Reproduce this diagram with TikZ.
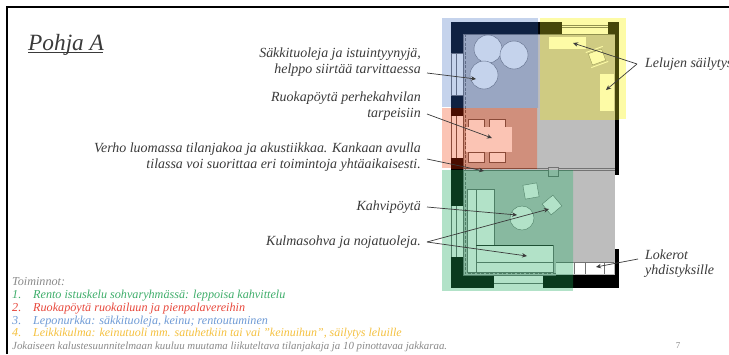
\documentclass[tikz,border=0pt]{standalone}
\usepackage{fontspec}
\setmainfont{Liberation Serif}
\usetikzlibrary{arrows.meta}
\definecolor{ink}{HTML}{3A3A3A}
\definecolor{gtext}{HTML}{8A8A8A}
\definecolor{tgreen}{HTML}{3FAE6B}
\definecolor{tred}{HTML}{E8483C}
\definecolor{tblue}{HTML}{6F9BD6}
\definecolor{tyellow}{HTML}{F5C13F}
\tikzset{
  lbl/.style={font=\fontsize{14}{16}\selectfont\itshape,text=ink,inner sep=0pt,align=right,anchor=east},
  lbll/.style={font=\fontsize{14}{15}\selectfont\itshape,text=ink,inner sep=0pt,align=left,anchor=west},
  func/.style={font=\fontsize{12.2}{14}\selectfont\itshape,inner sep=0pt,anchor=base west},
  arr/.style={draw=ink,line width=0.7pt,-{Stealth[length=5pt,width=4.5pt]}},
  wall/.style={fill=pw},
  furn/.style={fill=pu,draw=pl,line width=0.4pt},
  win/.style={fill=pu}
}
\newcommand{\planshape}{%
  % floor
  \fill[pf] (463,34) rectangle (615,275);
  % walls
  \fill[wall] (451,22) rectangle (562,34);
  \fill[wall] (608,22) rectangle (619,34);
  \fill[wall] (451,22) rectangle (463,53);
  \fill[wall] (451,95) rectangle (463,116);
  \fill[wall] (451,158) rectangle (463,206);
  \fill[wall] (451,257) rectangle (463,288);
  \fill[wall] (615,22) rectangle (619,175);
  \fill[wall] (615,249) rectangle (619,288);
  \fill[wall] (451,275) rectangle (494,288);
  \fill[wall] (543,275) rectangle (619,288);
  % windows
  \fill[win] (562,23) rectangle (608,34);
  \draw[pl,line width=0.5pt] (562,25.5) -- (608,25.5) (562,27.5) -- (608,27.5);
  \fill[win] (451,53) rectangle (463,95);
  \fill[win] (451,116) rectangle (463,158);
  \fill[win] (451,206) rectangle (463,257);
  \draw[pl,line width=0.5pt] (451,53) -- (451,95) (456,53) -- (456,95) (451,116) -- (451,158) (456,116) -- (456,158) (451,206) -- (451,257) (456,206) -- (456,257) (451,53) -- (463,53) (451,95) -- (463,95);
  \fill[win] (494,275) rectangle (543,288);
  \draw[pl,line width=0.5pt] (494,283) -- (543,283);
  % room outline and curtains
  \draw[pl,line width=0.7pt] (463,34) -- (615,34);
  \draw[pl,line width=0.7pt] (463,168.5) -- (615,168.5) (463,170) -- (615,170);
  \draw[pl,line width=0.7pt] (463,34) -- (463,275) -- (556,275);
  \draw[pl,line width=0.5pt,dash pattern=on 3pt off 1.5pt] (465,34) -- (465,273.5) -- (556,273.5);
  \fill[pf] (548,167) rectangle (558,176);
  \draw[pl,line width=0.5pt] (548,167) rectangle (558,176);
  % poufs
  \draw[furn] (488,49) circle (14);
  \draw[furn] (514,55) circle (14);
  \draw[furn] (484,75) circle (14);
  % toy shelves
  \fill[pu] (549,37) rectangle (586,49);
  \fill[pu] (600,74) rectangle (614,111);
  % rocking chair
  \begin{scope}[shift={(597,57)},rotate=20]
    \fill[pu] (-7,-6) rectangle (7,6);
    \draw[pu,line width=0.9pt] (-9,-8) -- (9,-8) (-9,8) -- (9,8);
    \draw[pl,line width=0.3pt] (-7,-6) rectangle (7,6);
  \end{scope}
  % dining table
  \draw[furn] (468,119) rectangle (484,127);
  \draw[furn] (489,119) rectangle (505,127);
  \draw[furn] (468,152) rectangle (484,162);
  \draw[furn] (489,152) rectangle (505,162);
  \fill[pu] (466,127) rectangle (512,152);
  % sofa
  \fill[pu] (467,189) rectangle (494,245);
  \fill[pu] (467,245) rectangle (553,272);
  \draw[pl,line width=0.6pt] (467,189) -- (494,189) (476,189) -- (476,272) (467,189) -- (467,272) -- (553,272) -- (553,245) (476,262) -- (553,262) (494,189) -- (494,245);
  \draw[pw!70!pl,line width=0.8pt] (476,245) -- (553,245);
  % coffee table and armchairs
  \draw[furn] (522,218) circle (12);
  \draw[furn,rotate around={10:(531,191)}] (524,184) rectangle (538,198);
  \draw[furn,rotate around={40:(552,205)}] (545,198) rectangle (559,212);
  % lockers
  \fill[pu] (556,262) rectangle (614,274);
  \draw[pl,line width=0.7pt] (574,262) -- (574,274) (585,262) -- (585,274) (604,262) -- (604,274);
  \draw[pl,line width=0.5pt] (556,262) -- (614,262);
}
\newcommand{\zone}[9]{%
  \begin{scope}
    \clip (#1,#2) rectangle (#3,#4);
    \colorlet{pf}{#6}\colorlet{pw}{#7}\colorlet{pu}{#8}\colorlet{pl}{#9}
    \fill[#5] (#1,#2) rectangle (#3,#4);
    \planshape
  \end{scope}}
\definecolor{zb}{HTML}{C5D3EC}\definecolor{zbf}{HTML}{99A6C2}\definecolor{zbw}{HTML}{0F2142}\definecolor{zbl}{HTML}{5F6C88}
\definecolor{zy}{HTML}{FDFBA6}\definecolor{zyf}{HTML}{CFCB82}\definecolor{zyw}{HTML}{46460A}\definecolor{zyl}{HTML}{90904E}
\definecolor{zr}{HTML}{FBC4B4}\definecolor{zrf}{HTML}{D08F7C}\definecolor{zrw}{HTML}{4A0D00}\definecolor{zrl}{HTML}{8A4A38}
\definecolor{zg}{HTML}{B2E2C8}\definecolor{zgf}{HTML}{88B9A0}\definecolor{zgw}{HTML}{0A3A1E}\definecolor{zgl}{HTML}{4E7F66}
\begin{document}
\begin{tikzpicture}[x=1bp,y=-1bp]
\useasboundingbox (0,0) rectangle (729,354);
\fill[white] (0,0) rectangle (729,354);
% slide frame
\draw[black,line width=1.6pt] (7,354) -- (7,7) -- (729,7);
% title
\node[font=\fontsize{23.4}{28}\selectfont\itshape,text=ink,inner sep=0pt,anchor=base west] (title) at (28,50) {Pohja A};
\draw[ink,line width=0.9pt] (28,52) -- (103,52);
% plan, plain
\colorlet{pf}{black!26}\colorlet{pw}{black}\colorlet{pu}{white}\colorlet{pl}{black!55}
\planshape
% coloured zones
\zone{442}{18}{538}{107}{zb}{zbf}{zbw}{zb}{zbl}
\zone{540}{18}{626}{119}{zy}{zyf}{zyw}{zy}{zyl}
\zone{442}{108}{537}{168}{zr}{zrf}{zrw}{zr}{zrl}
\zone{442}{170}{573}{291}{zg}{zgf}{zgw}{zg}{zgl}
% labels
\node[lbl] (l1) at (421,62) {Säkkituoleja ja istuintyynyjä,\\helppo siirtää tarvittaessa};
\node[lbl] (l2) at (421,106) {Ruokapöytä perhekahvilan\\tarpeisiin};
\node[lbl] (l3) at (421,157) {Verho luomassa tilanjakoa ja akustiikkaa. Kankaan avulla\\tilassa voi suorittaa eri toimintoja yhtäaikaisesti.};
\node[lbl] (l4) at (421,207) {Kahvipöytä};
\node[lbl] (l5) at (421,242) {Kulmasohva ja nojatuoleja.};
\node[lbll] (l6) at (645,64) {Lelujen säilytys};
\node[lbll] (l7) at (645,263.5) {Lokerot\\yhdistyksille};
% connector ends
\coordinate (s1) at (427,73); \coordinate (e1) at (476,79);
\coordinate (s2) at (427,114); \coordinate (e2) at (492,138);
\coordinate (s3) at (427,159); \coordinate (e3) at (484,171);
\coordinate (s4) at (427,207); \coordinate (e4) at (517,215);
\coordinate (s5) at (427,242); \coordinate (e5a) at (527,256); \coordinate (e5b) at (549,209);
\coordinate (s6) at (637,64); \coordinate (e6a) at (573,43); \coordinate (e6b) at (606,90);
\coordinate (s7) at (638,259); \coordinate (e7) at (596,267);
\draw[arr] (s1) -- (e1);
\draw[arr] (s2) -- (e2);
\draw[arr] (s3) -- (e3);
\draw[arr] (s4) -- (e4);
\draw[arr] (s5) -- (e5a);
\draw[arr] (s5) -- (e5b);
\draw[arr] (s6) -- (e6a);
\draw[arr] (s6) -- (e6b);
\draw[arr] (s7) -- (e7);
% functions list
\node[func,text=gtext] (f0) at (12,285) {Toiminnot:};
\node[func,text=tgreen] (n1) at (12,298) {1.};
\node[func,text=tgreen] (f1) at (33,298) {Rento istuskelu sohvaryhmässä: leppoisa kahvittelu};
\node[func,text=tred] (n2) at (12,311) {2.};
\node[func,text=tred] (f2) at (33,311) {Ruokapöytä ruokailuun ja pienpalavereihin};
\node[func,text=tblue] (n3) at (12,324) {3.};
\node[func,text=tblue] (f3) at (33,324) {Leponurkka: säkkituoleja, keinu; rentoutuminen};
\node[func,text=tyellow] (n4) at (12,336) {4.};
\node[func,font=\fontsize{12}{14}\selectfont\itshape,text=tyellow] (f4) at (33,336) {Leikkikulma: keinutuoli mm. satuhetkiin tai vai ”keinuihun”, säilytys leluille};
\node[func,font=\fontsize{10.9}{14}\selectfont\itshape,text=gtext] (f5) at (12,349) {Jokaiseen kalustesuunnitelmaan kuuluu muutama liikuteltava tilanjakaja ja 10 pinottavaa jakkaraa.};
\node[font=\fontsize{9}{10}\selectfont,text=gtext,inner sep=0pt] (pg) at (678,346) {7};
\end{tikzpicture}
\end{document}
